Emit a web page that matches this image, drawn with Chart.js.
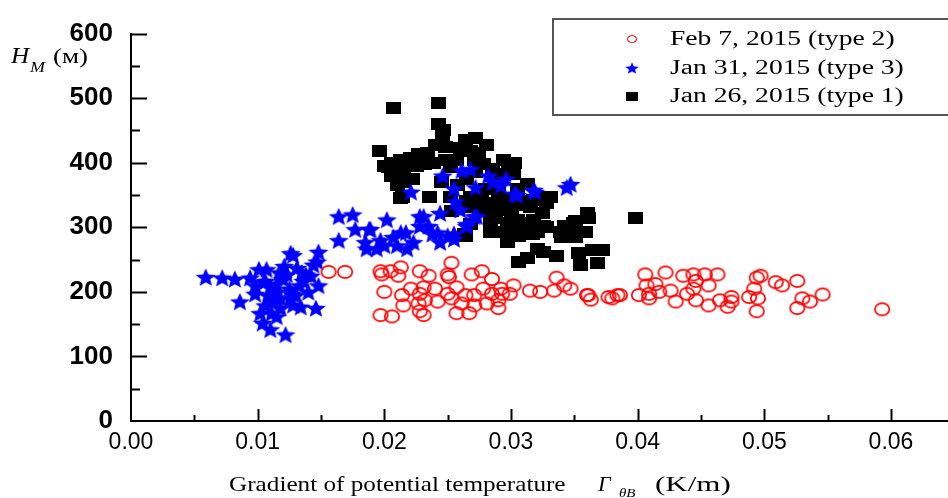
<!DOCTYPE html>
<html>
<head>
<meta charset="utf-8">
<script src="https://cdn.jsdelivr.net/npm/chart.js@4.4.1/dist/chart.umd.min.js"></script>
<style>
  html, body { margin: 0; padding: 0; background: #fff; overflow: hidden; }
  canvas { display: block; }
</style>
</head>
<body>
<canvas id="myChart" width="948" height="498"></canvas>
<script>
// axis ticks
const xTicks = [0, 0.01, 0.02, 0.03, 0.04, 0.05, 0.06];
const yTicks = [0, 100, 200, 300, 400, 500, 600];

const seriesLabels = ["Feb 7, 2015 (type 2)", "Jan 31, 2015 (type 3)", "Jan 26, 2015 (type 1)"];

// Feb 7, 2015 (type 2) - red circles  [gradient, H]
const feb7 = [
  [0.0156,231],[0.0169,231],[0.0197,232],[0.0198,227],[0.0205,232],[0.0213,238],[0.0211,225],[0.0228,232],
  [0.0235,225],[0.0253,245],[0.0250,227],[0.0251,223],[0.0269,227],[0.0277,232],[0.0285,220],
  [0.0200,200],[0.0214,195],[0.0221,205],[0.0228,197],[0.0231,207],[0.0240,205],[0.0250,197],[0.0257,207],
  [0.0264,195],[0.0271,195],[0.0278,205],[0.0285,197],[0.0292,205],[0.0293,197],[0.0302,210],[0.0299,197],
  [0.0315,202],[0.0323,200],
  [0.0215,179],[0.0227,182],[0.0232,187],[0.0242,185],[0.0253,190],[0.0261,182],[0.0271,179],[0.0281,182],[0.0290,187],
  [0.0228,170],[0.0257,167],[0.0267,167],[0.0290,175],[0.0197,164],[0.0206,162],[0.0231,164],
  [0.0336,222],[0.0342,210],[0.0347,205],[0.0360,195],[0.0377,192],[0.0384,195],[0.0334,202],
  [0.0406,227],[0.0422,230],[0.0436,225],[0.0444,227],[0.0453,227],[0.0463,227],[0.0446,217],[0.0456,210],
  [0.0407,210],[0.0414,212],[0.0409,197],[0.0417,200],[0.0426,202],[0.0401,195],[0.0409,190],[0.0430,185],
  [0.0439,197],[0.0444,205],[0.0446,187],[0.0456,179],[0.0465,187],[0.0474,192],[0.0471,177],[0.0474,185],
  [0.0488,192],[0.0492,205],[0.0494,222],[0.0497,225],[0.0495,190],[0.0494,170],[0.0509,215],[0.0514,210],
  [0.0526,217],[0.0530,190],[0.0536,185],[0.0526,175],[0.0546,196],[0.0593,173],[0.0361,195],[0.0363,188],
  [0.0380,190],[0.0386,195]
];

// Jan 31, 2015 (type 3) - blue stars
const jan31 = [
  [0.0059,223],[0.0072,222],[0.0082,220],[0.0086,185],[0.0094,222],[0.0101,235],[0.0107,235],[0.0098,197],
  [0.0102,167],[0.0110,142],[0.0122,134],[0.0106,179],[0.0115,162],[0.0126,260],[0.0128,257],[0.0148,262],
  [0.0164,280],[0.0147,247],[0.0144,242],[0.0148,210],[0.0146,175],[0.0134,177],[0.0123,227],[0.0115,212],
  [0.0127,197],[0.0136,217],[0.0118,190],[0.0126,190],[0.0106,217],[0.0110,207],[0.0131,237],[0.0138,227],
  [0.0111,167],[0.0104,152],[0.0115,200],[0.0125,205],[0.0108,195],[0.0120,220],[0.0130,195],[0.0112,185],
  [0.0135,230],[0.0105,215],[0.0140,200],[0.0128,180],[0.0118,175],[0.0098,210],[0.0121,240],[0.0133,210],
  [0.0142,225],[0.0117,230],
  [0.0164,317],[0.0175,320],[0.0202,312],[0.0177,297],[0.0188,297],[0.0185,277],[0.0197,280],[0.0207,285],
  [0.0217,292],[0.0228,317],[0.0244,322],[0.0235,302],[0.0242,292],[0.0223,277],[0.0210,272],[0.0200,272],
  [0.0194,267],[0.0244,277],[0.0255,290],[0.0218,267],[0.0186,267],[0.0221,355],[0.0246,380],[0.0261,388],
  [0.0268,390],[0.0255,360],[0.0256,340],[0.0260,327],[0.0271,317],[0.0265,302],[0.0213,292],[0.0238,290],
  [0.0250,287],[0.0272,362],[0.0282,380],[0.0286,370],[0.0296,375],[0.0292,365],[0.0303,352],[0.0318,358],
  [0.0273,317],[0.0265,305],[0.0189,297],[0.0231,317],[0.0228,302],[0.0255,282],[0.0344,362],[0.0347,367],
  [0.0319,355],[0.0305,350]
];

// Jan 26, 2015 (type 1) - black squares
const jan26 = [
  [0.0207,484],[0.0243,492],[0.0243,460],[0.0247,450],[0.0246,443],[0.0196,418],[0.0264,435],[0.0272,438],
  [0.0240,428],[0.0248,425],[0.0260,423],[0.0281,428],[0.0268,418],[0.0274,415],[0.0234,415],[0.0227,413],
  [0.0221,408],[0.0213,405],[0.0206,400],[0.0203,393],[0.0206,380],[0.0215,393],[0.0225,395],[0.0232,398],
  [0.0239,400],[0.0248,405],[0.0252,393],[0.0257,405],[0.0271,405],[0.0278,398],[0.0285,390],[0.0294,405],
  [0.0298,398],[0.0303,400],[0.0290,382],[0.0302,382],[0.0313,367],[0.0210,365],[0.0214,347],[0.0236,347],
  [0.0252,347],[0.0268,347],[0.0277,342],[0.0268,332],[0.0253,325],[0.0286,337],[0.0286,322],[0.0294,327],
  [0.0305,335],[0.0315,332],[0.0318,342],[0.0305,312],[0.0318,312],[0.0297,307],[0.0284,307],[0.0268,305],
  [0.0263,290],[0.0284,292],[0.0297,290],[0.0313,295],[0.0297,277],[0.0321,267],[0.0265,340],[0.0297,332],
  [0.0323,347],[0.0328,337],[0.0325,322],[0.0307,307],[0.0292,292],[0.0309,292],[0.0321,292],[0.0328,300],
  [0.0339,292],[0.0342,302],[0.0349,307],[0.0360,322],[0.0361,315],[0.0349,290],[0.0359,292],[0.0340,285],
  [0.0351,285],[0.0398,315],[0.0326,262],[0.0336,255],[0.0353,260],[0.0364,265],[0.0372,265],[0.0355,242],
  [0.0368,245],[0.0313,252],[0.0306,247],[0.0331,347],[0.0351,310],[0.0326,302],[0.0317,290],[0.0306,287],
  [0.0213,345],[0.0264,287],[0.0200,395],[0.0210,385],[0.0222,375],[0.0215,370],[0.0245,370],[0.0258,365],
  [0.0265,375],[0.0272,385],[0.0280,360],[0.0290,355],[0.0298,345],[0.0305,360],[0.0312,340],[0.0275,325],
  [0.0288,315],[0.0300,320]
];

const SANS = "'Liberation Sans', Arial, sans-serif";
const SERIF = "'Liberation Serif', 'Times New Roman', serif";

// marker images
function makeMarker(w, h, draw) {
  const c = document.createElement("canvas");
  c.width = w; c.height = h;
  draw(c.getContext("2d"), w, h);
  return c;
}
const circleImg = makeMarker(18, 16, (g, w, h) => {
  g.strokeStyle = "#ff0000"; g.lineWidth = 1.7;
  g.beginPath(); g.ellipse(w / 2, h / 2, 7.2, 6.2, 0, 0, Math.PI * 2); g.stroke();
});
const starImg = makeMarker(22, 20, (g, w, h) => {
  g.fillStyle = "#0000ff";
  g.beginPath();
  for (let i = 0; i < 10; i++) {
    const r = i % 2 === 0 ? 1 : 0.45;
    const a = -Math.PI / 2 + i * Math.PI / 5;
    const px = w / 2 + Math.cos(a) * r * 10.5;
    const py = h / 2 + 1 + Math.sin(a) * r * 9.6;
    i === 0 ? g.moveTo(px, py) : g.lineTo(px, py);
  }
  g.closePath(); g.fill();
});
const squareImg = makeMarker(15, 12, (g, w, h) => {
  g.fillStyle = "#000"; g.fillRect(0, 0, w, h);
});
const markers = [circleImg, starImg, squareImg];

function stretchText(ctx, txt, x, y, font, sx) {
  ctx.save();
  ctx.font = font;
  ctx.translate(x, y);
  ctx.scale(sx, 1);
  ctx.fillText(txt, 0, 0);
  const w = ctx.measureText(txt).width * sx;
  ctx.restore();
  return w;
}

const decor = {
  id: "decor",
  beforeDraw(chart) {
    const ctx = chart.ctx;
    ctx.save();
    ctx.fillStyle = "#fff";
    ctx.fillRect(0, 0, chart.width, chart.height);
    ctx.restore();
  },
  afterDraw(chart) {
    const { ctx, chartArea: a, scales: { x, y } } = chart;
    ctx.save();
    ctx.strokeStyle = "#000";
    ctx.lineWidth = 2;
    const line = (x1, y1, x2, y2) => { ctx.beginPath(); ctx.moveTo(x1, y1); ctx.lineTo(x2, y2); ctx.stroke(); };
    // inward ticks, x axis
    xTicks.forEach((v, i) => {
      const px = Math.round(x.getPixelForValue(v)) + 0.5;
      if (i > 0) line(px, a.bottom, px, a.bottom - 12);
      const m = i < xTicks.length - 1 ? (v + xTicks[i + 1]) / 2 : v + (xTicks[1] - xTicks[0]) / 2;
      if (m < x.max) {
        const mx = Math.round(x.getPixelForValue(m)) + 0.5;
        line(mx, a.bottom, mx, a.bottom - 6);
      }
    });
    // inward ticks, y axis
    yTicks.forEach((v, i) => {
      const py = Math.round(y.getPixelForValue(v)) + 0.5;
      if (i > 0) line(a.left, py, a.left + 16, py);
      if (i < yTicks.length - 1) {
        const my = Math.round(y.getPixelForValue((v + yTicks[i + 1]) / 2)) + 0.5;
        line(a.left, my, a.left + 9, my);
      }
    });

    // y axis title  H_M (м)
    ctx.fillStyle = "#000";
    ctx.textBaseline = "alphabetic";
    stretchText(ctx, "H", 11, 63, "italic 24px " + SERIF, 1.05);
    stretchText(ctx, "M", 30, 72, "italic 15px " + SERIF, 1.2);
    stretchText(ctx, "(м)", 53, 63, "20px " + SERIF, 1.35);

    // x axis title
    stretchText(ctx, "Gradient of potential temperature", 229, 491, "21px " + SERIF, 1.2);
    stretchText(ctx, "Γ", 598, 491, "italic 22px " + SERIF, 1.0);
    stretchText(ctx, "θB", 619, 497, "italic 12px " + SERIF, 1.25);
    stretchText(ctx, "(K/m)", 655, 491, "20px " + SERIF, 1.55);

    // legend box (open to the right edge)
    ctx.strokeStyle = "#555";
    ctx.lineWidth = 2;
    ctx.strokeRect(553, 19, 420, 96);
    const rows = [39, 68, 96];
    const sizes = [[11, 9], [15, 13], [12, 9]];
    seriesLabels.forEach((lab, i) => {
      const [w, h] = sizes[i];
      ctx.drawImage(markers[i], 632 - w / 2, rows[i] - h / 2, w, h);
      ctx.fillStyle = "#000";
      ctx.textBaseline = "middle";
      stretchText(ctx, lab, 670, rows[i] + 1, "20px " + SERIF, 1.38);
    });
    ctx.restore();
  }
};

const toPts = arr => arr.map(([gx, h]) => ({ x: gx, y: h }));

new Chart(document.getElementById("myChart"), {
  type: "scatter",
  data: {
    datasets: [
      { label: seriesLabels[0], data: toPts(feb7), pointStyle: circleImg, pointRadius: 7 },
      { label: seriesLabels[1], data: toPts(jan31), pointStyle: starImg, pointRadius: 8 },
      { label: seriesLabels[2], data: toPts(jan26), pointStyle: squareImg, pointRadius: 7 }
    ]
  },
  options: {
    responsive: false,
    animation: false,
    devicePixelRatio: 1,
    layout: { autoPadding: false, padding: { left: 0, right: 0, top: 22, bottom: 0 } },
    plugins: {
      legend: { display: false },
      tooltip: { enabled: false }
    },
    scales: {
      x: {
        type: "linear",
        min: 0,
        max: 0.0645,
        grid: { display: false, drawTicks: false },
        border: { display: true, color: "#000", width: 2 },
        afterBuildTicks: s => { s.ticks = xTicks.map(v => ({ value: v })); },
        afterFit: s => { s.height = 77; },
        ticks: {
          color: "#000",
          padding: 8,
          maxRotation: 0,
          font: { family: SANS, size: 23 },
          callback: v => v.toFixed(2)
        }
      },
      y: {
        type: "linear",
        min: 0,
        max: 600,
        grid: { display: false, drawTicks: false },
        border: { display: true, color: "#000", width: 2 },
        afterBuildTicks: s => { s.ticks = yTicks.map(v => ({ value: v })); },
        afterFit: s => { s.width = 131; },
        ticks: {
          color: "#000",
          padding: 18,
          font: { family: SANS, size: 26, weight: "bold" }
        }
      }
    }
  },
  plugins: [decor]
});
</script>
</body>
</html>
